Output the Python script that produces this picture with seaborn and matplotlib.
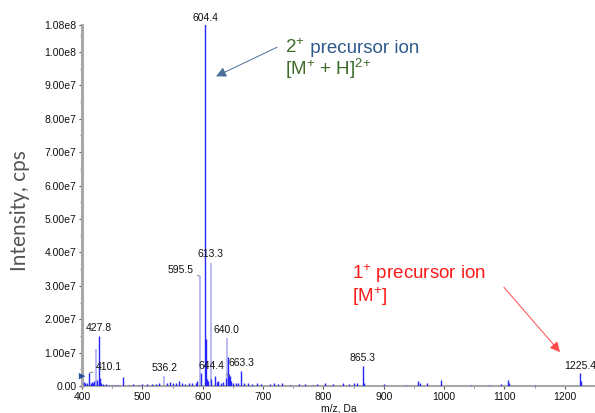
import matplotlib
matplotlib.use("Agg")
import matplotlib.pyplot as plt
import matplotlib.ticker as mticker
import seaborn as sns
import numpy as np

# ---------------- data ----------------
# dark blue sticks (m/z, intensity)
mz_dark = [403, 405, 408, 411.6, 414, 416, 418, 420, 424, 425.5, 427.8, 429, 431,
           435, 440, 444, 450, 455, 460, 468, 478, 485, 492, 500, 507, 515, 522,
           528, 541, 546, 551, 556, 561, 566, 571, 577, 582, 588, 591, 597.2,
           604.4, 605.4, 607, 609, 614.3, 619.5, 623, 626, 630, 634, 638, 641.5,
           643, 644.4, 646, 650, 655, 659, 663.3, 668, 675, 682, 690, 697, 712,
           718, 725, 731, 745, 760, 770, 782, 790, 803, 815, 833, 842, 850, 856,
           865.3, 867, 900, 937, 957, 960, 972, 995, 1045, 1075, 1095, 1105,
           1107, 1150, 1225.4, 1227]
int_dark = [1.2e6, 0.8e6, 1.0e6, 3.9e6, 1.0e6, 1.2e6, 0.9e6, 1.5e6, 1.8e6, 1.0e6,
            1.5e7, 2.5e6, 0.8e6, 0.6e6, 0.5e6, 0.4e6, 0.3e6, 0.4e6, 0.3e6, 2.8e6,
            0.4e6, 0.5e6, 0.4e6, 0.6e6, 0.5e6, 0.7e6, 0.6e6, 0.8e6, 0.9e6, 1.2e6,
            0.8e6, 1.0e6, 1.4e6, 0.9e6, 0.7e6, 0.8e6, 1.0e6, 0.9e6, 1.5e6, 3.9e6,
            1.15e8, 1.4e7, 2.0e6, 1.5e6, 2.2e6, 3.0e6, 1.2e6, 1.4e6, 1.0e6, 1.2e6,
            2.5e6, 8.8e6, 3.5e6, 3.0e6, 1.5e6, 1.0e6, 0.8e6, 1.0e6, 4.5e6, 0.8e6,
            0.8e6, 0.6e6, 0.9e6, 0.7e6, 0.6e6, 0.8e6, 0.5e6, 0.9e6, 0.4e6, 0.5e6,
            0.6e6, 0.4e6, 0.6e6, 0.9e6, 0.5e6, 0.9e6, 0.6e6, 1.0e6, 0.8e6, 6.1e6,
            1.0e6, 0.5e6, 0.4e6, 1.6e6, 1.0e6, 0.9e6, 1.8e6, 0.3e6, 0.4e6, 0.5e6,
            1.8e6, 1.0e6, 0.2e6, 3.9e6, 1.5e6]
# light (lavender) sticks
mz_light = [422.5, 536.2, 595.5, 613.3, 640.0]
int_light = [1.1e7, 3.1e6, 3.29e7, 3.69e7, 1.45e7]

# peak labels: text, m/z, intensity, offset x px, offset y px, ha
lab_text = ["595.5", "613.3", "640.0", "427.8", "410.1", "536.2", "644.4",
            "663.3", "865.3", "1225.4"]
lab_mz = [595.5, 613.3, 640.0, 427.8, 411.6, 536.2, 644.4, 663.3, 865.3, 1225.4]
lab_int = [3.29e7, 3.69e7, 1.45e7, 1.5e7, 3.9e6, 3.1e6, 3.0e6, 4.5e6, 6.1e6, 3.9e6]
lab_dx = [-6, 0, 0, 0, 7, 0, -5, 0, 0, 0]
lab_dy = [1, 4, 3, 3, 1, 3, 5, 3, 3, 2]
lab_ha = ["right", "center", "center", "center", "left", "center", "right",
          "center", "center", "center"]
lab_leader = [True, False, False, False, True, False, True, False, False, False]

yticks = [0, 1e7, 2e7, 3e7, 4e7, 5e7, 6e7, 7e7, 8e7, 9e7, 1e8, 1.08e8]
xticks = [400, 500, 600, 700, 800, 900, 1000, 1100, 1200]

# ---------------- style ----------------
sns.set_style("ticks")
plt.rcParams["font.family"] = ["Liberation Sans", "DejaVu Sans"]
plt.rcParams["mathtext.fontset"] = "custom"
plt.rcParams["mathtext.rm"] = "Liberation Sans"
plt.rcParams["mathtext.it"] = "Liberation Sans"

fig = plt.figure(figsize=(5.95, 4.13), dpi=100)
ax = fig.add_axes([0.138, 0.065, 0.862, 0.874])

DARK = "#2424ff"
LIGHT = "#b4b4f4"

ax.vlines(mz_light, 0, int_light, color=LIGHT, lw=1.3, zorder=2)
ax.vlines(mz_dark, 0, int_dark, color=DARK, lw=1.0, zorder=3)
sns.scatterplot(x=[400], y=[3.0e6], marker=">", color="#2a4fa0", s=22,
                ax=ax, clip_on=False, zorder=5, edgecolor="none")

ax.set_xlim(400, 1250)
ax.set_ylim(0, 1.08e8)


def fmt(v, pos):
    if v == 0:
        return "0.00"
    e = int(np.floor(np.log10(abs(v))))
    return f"{v / 10 ** e:.2f}e{e}"


ax.set_yticks(yticks)
ax.yaxis.set_major_formatter(mticker.FuncFormatter(fmt))
ax.yaxis.set_minor_locator(mticker.FixedLocator(np.arange(5e6, 1.08e8, 1e7)))
ax.set_xticks(xticks)
ax.xaxis.set_minor_locator(mticker.MultipleLocator(50))

ax.tick_params(axis="both", which="major", labelsize=7.5, length=2.5, width=0.8,
               color="#555555", pad=1.5, labelcolor="#111111")
ax.tick_params(axis="both", which="minor", length=1.5, width=0.6, color="#777777")

sns.despine(ax=ax)
ax.spines["left"].set_color("#a8a8a8")
ax.spines["left"].set_linewidth(2.2)
ax.spines["bottom"].set_color("#a8a8a8")
ax.spines["bottom"].set_linewidth(1.5)

ax.set_xlabel("m/z, Da", fontsize=7.5, labelpad=1, color="#111111")
fig.text(0.034, 0.489, "Intensity, cps", rotation=90, va="center", ha="center",
         fontsize=15, color="#555555", family=["Lato", "DejaVu Sans"])

# main peak label
ax.annotate("604.4", xy=(604.4, 1.08e8), xytext=(0, 2), textcoords="offset pixels",
            ha="center", va="bottom", fontsize=7.5, color="#111111",
            annotation_clip=False)

for t, m, h, dx, dy, ha, ld in zip(lab_text, lab_mz, lab_int, lab_dx, lab_dy,
                                    lab_ha, lab_leader):
    ap = dict(arrowstyle="-", color="#707070", lw=0.6, shrinkA=0, shrinkB=0) if ld else None
    ax.annotate(t, xy=(m, h), xytext=(dx, dy), textcoords="offset pixels",
                ha=ha, va="bottom", fontsize=7.5, color="#111111",
                arrowprops=ap, annotation_clip=False)

# 2+ precursor annotation
GREEN = "#3f6b2a"
BLUE2 = "#2f5a8e"
t1 = ax.text(736, 9.96e7, r"2$^{+}$", fontsize=13.5, color=GREEN, va="baseline",
             ha="left")
ax.annotate(" precursor ion", xy=(1, 0), xycoords=t1, xytext=(0, 0),
            textcoords="offset points", fontsize=13.5, color=BLUE2,
            va="bottom", ha="left")
ax.text(736, 9.3e7, r"[M$^{+}$ + H]$^{2}$$^{+}$", fontsize=13.5,
        color=GREEN, va="baseline", ha="left")
ax.annotate("", xy=(622, 9.27e7), xytext=(723, 1.014e8),
            arrowprops=dict(arrowstyle="-|>,head_length=0.6,head_width=0.3",
                            color="#4a6f9a", lw=0.7, shrinkA=0, shrinkB=0))

# 1+ precursor annotation
RED = "#ff1a1a"
ax.text(847, 3.2e7, r"1$^{+}$ precursor ion", fontsize=13.5, color=RED,
        va="baseline", ha="left")
ax.text(847, 2.51e7, r"[M$^{+}$]", fontsize=13.5, color=RED, va="baseline",
        ha="left")
ax.annotate("", xy=(1192, 1.02e7), xytext=(1099, 2.96e7),
            arrowprops=dict(arrowstyle="-|>,head_length=0.6,head_width=0.3",
                            color="#ff4a4a", lw=0.7, shrinkA=0, shrinkB=0))

fig.savefig("out.png", dpi=100)
